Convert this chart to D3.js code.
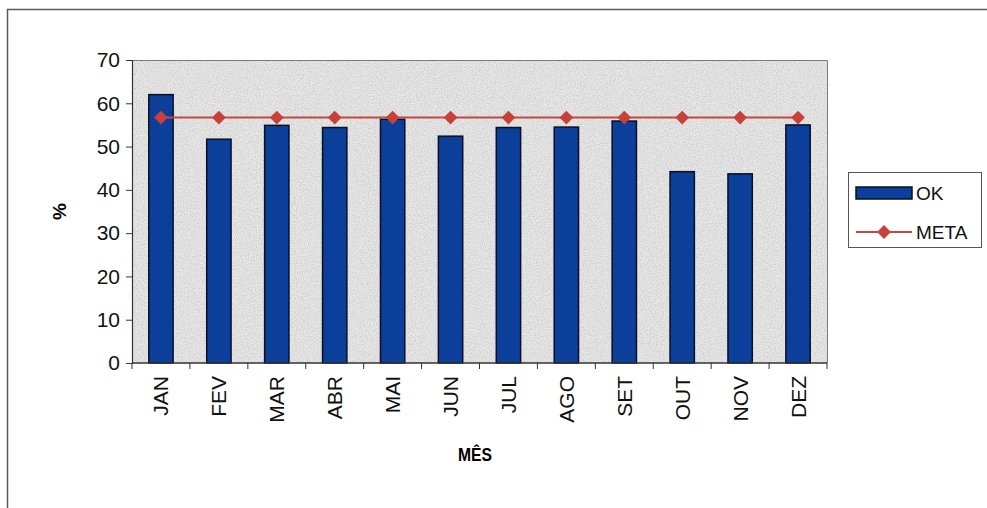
<!DOCTYPE html>
<html>
<head>
<meta charset="utf-8">
<script src="https://cdn.jsdelivr.net/npm/d3@7"></script>
<style>
  html, body { margin: 0; padding: 0; background: #fff; }
  svg { display: block; }
</style>
</head>
<body>
<svg id="chart" width="987" height="508"></svg>
<script>
// Monthly share of OK results versus the target (META)
const months = ["JAN", "FEV", "MAR", "ABR", "MAI", "JUN", "JUL", "AGO", "SET", "OUT", "NOV", "DEZ"];
const okValues = [62, 51.7, 54.9, 54.4, 56.3, 52.4, 54.4, 54.5, 55.9, 44.2, 43.7, 55.0];
const metaValues = [56.7, 56.7, 56.7, 56.7, 56.7, 56.7, 56.7, 56.7, 56.7, 56.7, 56.7, 56.7];
const yTicks = [0, 10, 20, 30, 40, 50, 60, 70];

const svg = d3.select("#chart");
const font = "'Liberation Sans', Arial, sans-serif";

const plot = { left: 132, top: 60, right: 827, bottom: 363 };

const x = d3.scaleBand().domain(months).range([plot.left, plot.right]).paddingInner(0.58).paddingOuter(0.29);
const xOuter = d3.scaleBand().domain(months).range([plot.left, plot.right]);
const y = d3.scaleLinear().domain([0, 70]).range([plot.bottom, plot.top]);

// Outer frame (left and top edges)
svg.append("path")
  .attr("d", "M7.5,508 L7.5,9.5 L987,9.5")
  .attr("fill", "none").attr("stroke", "#5a5a5a").attr("stroke-width", 1.5);

// Grainy grey plot background
const defs = svg.append("defs");
const flt = defs.append("filter").attr("id", "grain").attr("x", 0).attr("y", 0).attr("width", 1).attr("height", 1);
flt.append("feTurbulence").attr("type", "fractalNoise").attr("baseFrequency", 0.85).attr("numOctaves", 2).attr("seed", 3).attr("result", "n");
flt.append("feColorMatrix").attr("in", "n").attr("type", "matrix")
  .attr("values", "0 0 0 0 0.5  0 0 0 0 0.5  0 0 0 0 0.5  0 0 0 -1.8 1.15")
  .attr("result", "g");
flt.append("feComposite").attr("in", "g").attr("in2", "SourceGraphic").attr("operator", "in");

svg.append("rect")
  .attr("x", plot.left).attr("y", plot.top)
  .attr("width", plot.right - plot.left).attr("height", plot.bottom - plot.top)
  .attr("fill", "#e8e8e8");
svg.append("rect")
  .attr("x", plot.left).attr("y", plot.top)
  .attr("width", plot.right - plot.left).attr("height", plot.bottom - plot.top)
  .attr("fill", "#e8e8e8").attr("filter", "url(#grain)").attr("opacity", 0.75);

// Plot border (top and right)
svg.append("path")
  .attr("d", `M${plot.left},${plot.top + 0.5} L${plot.right + 0.5},${plot.top + 0.5} L${plot.right + 0.5},${plot.bottom}`)
  .attr("fill", "none").attr("stroke", "#7a7a7a").attr("stroke-width", 1);

// Bars
svg.append("g").selectAll("rect").data(months).join("rect")
  .attr("x", d => x(d))
  .attr("y", (d, i) => y(okValues[i]))
  .attr("width", x.bandwidth())
  .attr("height", (d, i) => y(0) - y(okValues[i]))
  .attr("fill", "#0b3f9a")
  .attr("stroke", "#0a0f22").attr("stroke-width", 1.5);

// META line with diamond markers
const diamond = d3.symbol(d3.symbolSquare, 95);
const line = d3.line().x((d, i) => x(months[i]) + x.bandwidth() / 2).y(d => y(d));
svg.append("path").datum(metaValues)
  .attr("d", line).attr("fill", "none").attr("stroke", "#c9473f").attr("stroke-width", 2);
svg.append("g").selectAll("path").data(metaValues).join("path")
  .attr("d", diamond)
  .attr("transform", (d, i) => `translate(${x(months[i]) + x.bandwidth() / 2},${y(d)}) rotate(45)`)
  .attr("fill", "#c8403a");

// Y axis
const yAxis = svg.append("g").attr("transform", `translate(${plot.left},0)`)
  .call(d3.axisLeft(y).tickValues(yTicks).tickSize(6).tickPadding(6).tickFormat(d3.format("d")));
yAxis.select(".domain").attr("stroke", "#333").attr("stroke-width", 1.2);
yAxis.selectAll(".tick line").attr("stroke", "#333");
yAxis.selectAll("text").attr("font-family", font).attr("font-size", 21).attr("fill", "#111");

// X axis: ticks between categories
const xAxisG = svg.append("g").attr("transform", `translate(0,${plot.bottom})`);
xAxisG.append("line").attr("x1", plot.left).attr("x2", plot.right).attr("stroke", "#333").attr("stroke-width", 1.3);
xAxisG.selectAll("line.sep").data(months.concat(["end"])).join("line").attr("class", "sep")
  .attr("x1", (d, i) => i < months.length ? xOuter(d) : plot.right)
  .attr("x2", (d, i) => i < months.length ? xOuter(d) : plot.right)
  .attr("y1", 0).attr("y2", 6).attr("stroke", "#333");
xAxisG.selectAll("text").data(months).join("text")
  .attr("transform", d => `translate(${xOuter(d) + xOuter.bandwidth() / 2 + 7.5},13) rotate(-90)`)
  .attr("text-anchor", "end")
  .attr("font-family", font).attr("font-size", 21).attr("fill", "#111")
  .text(d => d);

// Axis titles
svg.append("text")
  .attr("x", 475).attr("y", 461)
  .attr("text-anchor", "middle")
  .attr("font-family", font).attr("font-size", 19).attr("font-weight", "bold")
  .attr("textLength", 34).attr("lengthAdjust", "spacingAndGlyphs")
  .text("MÊS");
svg.append("text")
  .attr("transform", `translate(66,${(plot.top + plot.bottom) / 2}) rotate(-90)`)
  .attr("text-anchor", "middle")
  .attr("font-family", font).attr("font-size", 19).attr("font-weight", "bold")
  .text("%");

// Legend
const lg = svg.append("g");
lg.append("rect").attr("x", 848.5).attr("y", 172.5).attr("width", 133).attr("height", 75)
  .attr("fill", "#fff").attr("stroke", "#555").attr("stroke-width", 1);
lg.append("rect").attr("x", 856).attr("y", 187).attr("width", 56).attr("height", 12)
  .attr("fill", "#0b3f9a").attr("stroke", "#0a0f22").attr("stroke-width", 1.5);
lg.append("text").attr("x", 916).attr("y", 200)
  .attr("font-family", font).attr("font-size", 19).attr("fill", "#111").text("OK");
lg.append("line").attr("x1", 856).attr("x2", 912).attr("y1", 232).attr("y2", 232)
  .attr("stroke", "#c9473f").attr("stroke-width", 2);
lg.append("path").attr("d", diamond)
  .attr("transform", "translate(884,232) rotate(45)").attr("fill", "#c8403a");
lg.append("text").attr("x", 916).attr("y", 239)
  .attr("font-family", font).attr("font-size", 19).attr("fill", "#111").text("META");
</script>
</body>
</html>
